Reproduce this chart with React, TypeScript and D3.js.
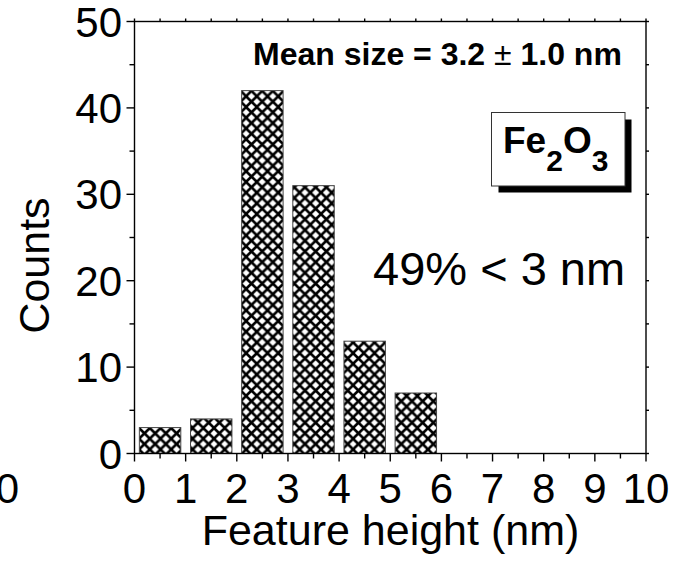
import React from "react";
import * as d3 from "d3";

const bins = ["0-1", "1-2", "2-3", "3-4", "4-5", "5-6"];
const binStarts = [0, 1, 2, 3, 4, 5];
const counts = [3, 4, 42, 31, 13, 7];
const xTickValues = [0, 1, 2, 3, 4, 5, 6, 7, 8, 9, 10];
const yTickValues = [0, 10, 20, 30, 40, 50];
const xMinorValues = d3.range(0.5, 10, 1);
const yMinorValues = d3.range(5, 50, 10);
const xLabel = "Feature height (nm)";
const yLabel = "Counts";
const meanText = ["Mean size = 3.2 ", "\u00B1", " 1.0 nm"];
const pctText = "49% < 3 nm";

const W = 680;
const H = 561;
const left = 134.5;
const right = 646;
const top = 21.5;
const bottom = 453.5;
const FONT = "'Liberation Sans', Arial, Helvetica, sans-serif";
const P = 10.7;

export default function App() {
  const x = d3.scaleLinear().domain([0, 10]).range([left, right]);
  const y = d3.scaleLinear().domain([0, 50]).range([bottom, top]);
  const band = d3
    .scaleBand<number>()
    .domain(binStarts)
    .range([x(0), x(6)])
    .paddingInner(0.19)
    .paddingOuter(0.095);

  return (
    <svg
      width={W}
      height={H}
      style={{ position: "absolute", left: 0, top: 0, background: "#fff" }}
      fontFamily={FONT}
    >
      <defs>
        <pattern id="xhatch" patternUnits="userSpaceOnUse" width={P} height={P} x={0} y={0}>
          <rect width={P} height={P} fill="#fff" />
          <path
            d={`M-2,-2 L${P + 2},${P + 2} M${P + 2},-2 L-2,${P + 2}`}
            stroke="#000"
            strokeWidth={2.6}
          />
        </pattern>
      </defs>
      <rect width={W} height={H} fill="#fff" />

      {/* bars */}
      {binStarts.map((b, i) => (
        <rect
          key={bins[i]}
          x={band(b)}
          y={y(counts[i])}
          width={band.bandwidth()}
          height={y(0) - y(counts[i])}
          fill="url(#xhatch)"
          stroke="#444"
          strokeWidth={1}
        />
      ))}

      {/* frame */}
      <rect x={left} y={top} width={right - left} height={bottom - top} fill="none" stroke="#000" strokeWidth={1.4} />

      {/* bottom ticks */}
      {xTickValues.map((t) => (
        <line key={"xb" + t} x1={x(t)} x2={x(t)} y1={bottom} y2={bottom + 8} stroke="#000" strokeWidth={1.4} />
      ))}
      {xMinorValues.map((t) => (
        <line key={"xbm" + t} x1={x(t)} x2={x(t)} y1={bottom} y2={bottom + 5} stroke="#000" strokeWidth={1.4} />
      ))}
      {/* top ticks */}
      {[...xTickValues, ...xMinorValues].map((t) => (
        <line key={"xt" + t} x1={x(t)} x2={x(t)} y1={top} y2={top - 3} stroke="#000" strokeWidth={1.4} />
      ))}
      {/* left ticks */}
      {yTickValues.map((t) => (
        <line key={"yl" + t} x1={left - 8} x2={left} y1={y(t)} y2={y(t)} stroke="#000" strokeWidth={1.4} />
      ))}
      {yMinorValues.map((t) => (
        <line key={"ylm" + t} x1={left - 5} x2={left} y1={y(t)} y2={y(t)} stroke="#000" strokeWidth={1.4} />
      ))}
      {/* right ticks */}
      {[...yTickValues, ...yMinorValues].map((t) => (
        <line key={"yr" + t} x1={right} x2={right + 3} y1={y(t)} y2={y(t)} stroke="#000" strokeWidth={1.4} />
      ))}

      {/* tick labels */}
      {xTickValues.map((t) => (
        <text key={"xlab" + t} x={x(t)} y={503} fontSize={42} textAnchor="middle" fill="#000">
          {t}
        </text>
      ))}
      {yTickValues.map((t) => (
        <text key={"ylab" + t} x={122} y={y(t) + 15} fontSize={42} textAnchor="end" fill="#000">
          {t}
        </text>
      ))}
      {/* cut-off label from neighbouring panel */}
      <text x={19} y={503} fontSize={42} textAnchor="end" fill="#000">
        10
      </text>

      {/* axis titles */}
      <text x={390.5} y={545} fontSize={43} textAnchor="middle" fill="#000">
        {xLabel}
      </text>
      <text transform="translate(49,265.5) rotate(-90)" fontSize={43} textAnchor="middle" fill="#000">
        {yLabel}
      </text>

      {/* annotations */}
      <text x={253} y={65} fontSize={32} fontWeight="bold" fill="#000">
        <tspan>{meanText[0]}</tspan>
        <tspan fontWeight="normal">{meanText[1]}</tspan>
        <tspan>{meanText[2]}</tspan>
      </text>
      <text x={373} y={285} fontSize={47} fill="#000">
        {pctText}
      </text>

      {/* Fe2O3 box */}
      <rect x={498.5} y={119.5} width={133} height={73} fill="#000" />
      <rect x={491.5} y={112.5} width={133.5} height={73.5} fill="#fff" stroke="#333" strokeWidth={1} />
      <text x={503} y={153} fontSize={37} fontWeight="bold" fill="#000">
        <tspan>Fe</tspan>
        <tspan fontSize={30} dy={18}>2</tspan>
        <tspan fontSize={37} dy={-18}>O</tspan>
        <tspan fontSize={30} dy={18}>3</tspan>
      </text>
    </svg>
  );
}
